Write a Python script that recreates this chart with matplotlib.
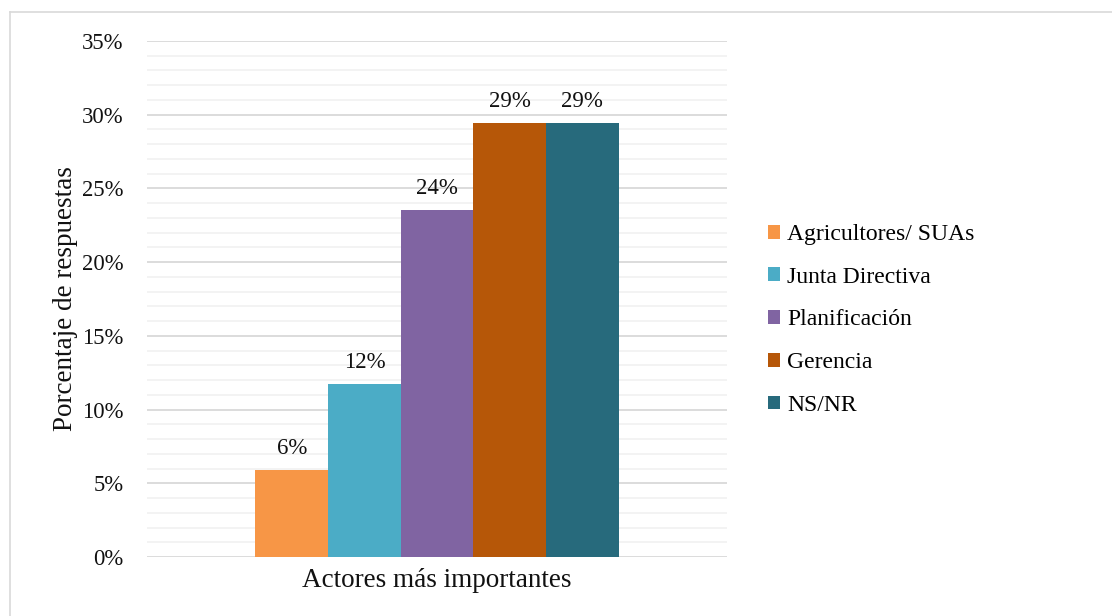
import matplotlib
matplotlib.use("Agg")
import matplotlib.pyplot as plt
from matplotlib.lines import Line2D
from matplotlib.patches import Patch
from matplotlib.ticker import MultipleLocator, FuncFormatter

# Data
categories = ["Agricultores/ SUAs", "Junta Directiva", "Planificación", "Gerencia", "NS/NR"]
values = [0.0588, 0.1176, 0.2353, 0.2941, 0.2941]
colors = ["#F79646", "#4BACC6", "#8064A2", "#B65708", "#276A7C"]
group_label = "Actores más importantes"
y_label = "Porcentaje de respuestas"

plt.rcParams["font.family"] = ["Liberation Serif", "DejaVu Serif"]
FS_TICK = 16.3
FS_DATA = 16.5
FS_LEG = 17
FS_TITLE = 19.5
TXT = "#111111"

W, H = 1112, 616
fig = plt.figure(figsize=(W / 100, H / 100), dpi=100)
ax = fig.add_axes([147 / W, 1 - 557 / H, (727 - 147) / W, (557 - 41) / H])

bar_w = 0.1252
n = len(values)
for i, (v, c, lab) in enumerate(zip(values, colors, categories)):
    x = (i - (n - 1) / 2) * bar_w
    ax.bar(x, v, width=bar_w, color=c, label=lab, zorder=3)
    ax.annotate(f"{round(v * 100):.0f}%", (x, v), xytext=(0, 8),
                textcoords="offset points", ha="center", va="bottom",
                fontsize=FS_DATA, color=TXT)

ax.set_xlim(-0.5, 0.5)
ax.set_ylim(0, 0.35)
ax.yaxis.set_major_locator(MultipleLocator(0.05))
ax.yaxis.set_minor_locator(MultipleLocator(0.01))
ax.yaxis.set_major_formatter(FuncFormatter(lambda v, p: f"{v * 100:.0f}%"))
ax.grid(axis="y", which="major", color="#D9D9D9", linewidth=1.3, zorder=0)
ax.grid(axis="y", which="minor", color="#F2F2F2", linewidth=1.3, zorder=0)
for s in ax.spines.values():
    s.set_visible(False)
ax.tick_params(axis="y", which="both", length=0, pad=17, labelsize=FS_TICK, colors=TXT)
ax.set_xticks([0])
ax.set_xticklabels([group_label], fontsize=FS_TITLE, color=TXT)
ax.tick_params(axis="x", length=0, pad=8)
ax.set_ylabel(y_label, fontsize=FS_TITLE, color=TXT, labelpad=3)

handles = [Patch(facecolor=c, edgecolor="none") for c in colors]
fig.legend(handles, categories, loc="upper left",
           bbox_to_anchor=(768 / W, 1 - 224 / H), frameon=False,
           fontsize=FS_LEG, handlelength=0.52, handleheight=0.52,
           handletextpad=0.28, labelspacing=0.92, borderpad=0, borderaxespad=0)

# Outer frame (left and top edges)
fig.add_artist(Line2D([9.5 / W, 9.5 / W], [0, 1 - 11.5 / H], color="#D9D9D9", linewidth=1.2))
fig.add_artist(Line2D([9.5 / W, 1.0], [1 - 11.5 / H, 1 - 11.5 / H], color="#D9D9D9", linewidth=1.2))

fig.savefig("out.png", dpi=100)
